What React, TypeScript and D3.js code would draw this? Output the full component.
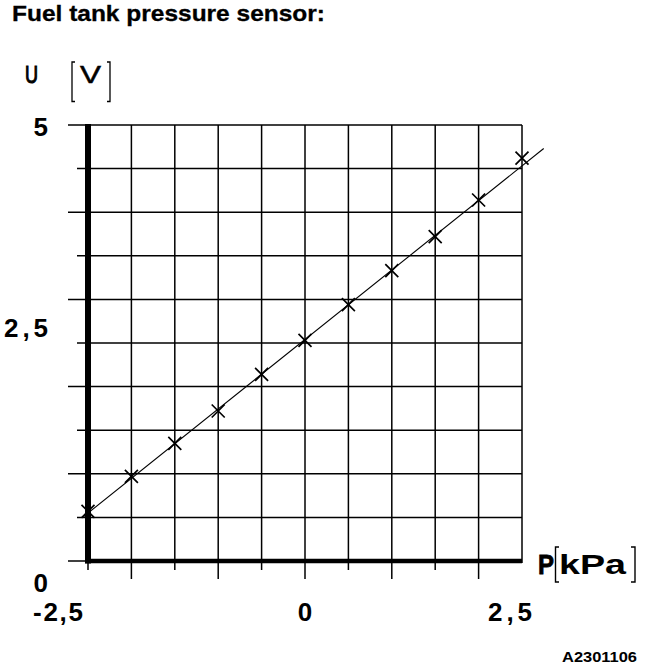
import React from "react";
import * as d3 from "d3";

const W = 656;
const H = 668;

const pressure = [-2.5, -2, -1.5, -1, -0.5, 0, 0.5, 1, 1.5, 2, 2.5];
const voltage = [0.57, 0.97, 1.35, 1.72, 2.14, 2.53, 2.94, 3.33, 3.72, 4.14, 4.62];
const lineP = [-2.55, 2.75];
const lineU = [0.51, 4.73];
const gridP = [-2.5, -2, -1.5, -1, -0.5, 0, 0.5, 1, 1.5, 2, 2.5];
const gridU = [0, 0.5, 1, 1.5, 2, 2.5, 3, 3.5, 4, 4.5, 5];
const yTicks = [
  { v: 5, label: "5", len: 14, base: 136 },
  { v: 2.5, label: "2,5", len: 44, base: 337 },
  { v: 0, label: "0", len: 15, base: 592 },
];
const xTicks = [
  { v: -2.5, label: "-2,5", dx: -5, len: 50, anchor: "end" },
  { v: 0, label: "0", dx: 0, len: 15, anchor: "middle" },
  { v: 2.5, label: "2,5", dx: 10, len: 44, anchor: "end" },
];

const FONT = "'Liberation Sans', Arial, Helvetica, sans-serif";

export default function App() {
  const x = d3.scaleLinear().domain([-2.5, 2.5]).range([88, 522]);
  const y = d3.scaleLinear().domain([0, 5]).range([561, 125]);
  const isInt = (v: number) => Math.abs(v - Math.round(v)) < 1e-9;

  const fit = d3
    .line<number>()
    .x((_, i) => x(lineP[i]))
    .y((d) => y(d));

  const m = 6.5;
  return (
    <svg
      width={W}
      height={H}
      style={{ position: "absolute", left: 0, top: 0, background: "#fff" }}
    >
      <rect width={W} height={H} fill="#fff" />
      {/* title */}
      <text
        x={12}
        y={21}
        fontFamily={FONT}
        fontWeight="bold"
        fontSize={22}
        textLength={313}
        lengthAdjust="spacingAndGlyphs"
        stroke="#000"
        strokeWidth={0.3}
      >
        Fuel tank pressure sensor:
      </text>

      {/* Y axis label U [V] */}
      <text x={25} y={83} fontFamily={FONT} fontSize={24} textLength={13} lengthAdjust="spacingAndGlyphs" stroke="#000" strokeWidth={1.1}>
        U
      </text>
      <path d="M75,62 H72 V101.5 H75" fill="none" stroke="#000" strokeWidth={1.3} />
      <text x={80} y={83} fontFamily={FONT} fontSize={24} textLength={21} lengthAdjust="spacingAndGlyphs" stroke="#000" strokeWidth={0.5}>
        V
      </text>
      <path d="M107,62 H110 V101.5 H107" fill="none" stroke="#000" strokeWidth={1.3} />

      {/* horizontal grid */}
      {gridU.map((u) => (
        <line
          key={"h" + u}
          x1={isInt(u) ? 68 : 77}
          x2={x(2.5)}
          y1={y(u)}
          y2={y(u)}
          stroke="#000"
          strokeWidth={1.5}
        />
      ))}
      {/* vertical grid */}
      {gridP.map((p) => (
        <line
          key={"v" + p}
          x1={x(p)}
          x2={x(p)}
          y1={y(5)}
          y2={p === 2.5 ? y(0) + 2 : isInt(p) ? 579 : 570}
          stroke="#000"
          strokeWidth={1.5}
        />
      ))}
      {/* thick axes */}
      <line x1={x(-2.5)} x2={x(-2.5)} y1={y(5) - 1} y2={y(0) + 2.5} stroke="#000" strokeWidth={6} />
      <line x1={x(-2.5) - 3} x2={x(2.5)} y1={y(0)} y2={y(0)} stroke="#000" strokeWidth={4.5} />

      {/* fitted line */}
      <path d={fit(lineU) || ""} fill="none" stroke="#000" strokeWidth={1.1} />

      {/* markers */}
      {pressure.map((p, i) => {
        const cx = x(p);
        const cy = y(voltage[i]);
        return (
          <path
            key={"m" + i}
            d={`M${cx - m},${cy - m}L${cx + m},${cy + m}M${cx - m},${cy + m}L${cx + m},${cy - m}`}
            stroke="#000"
            strokeWidth={1.7}
          />
        );
      })}

      {/* y tick labels */}
      {yTicks.map((t) => (
        <text
          key={"yl" + t.v}
          x={48}
          y={t.base}
          textAnchor="end"
          fontFamily={FONT}
          fontWeight="bold"
          fontSize={26}
          textLength={t.len}
          lengthAdjust="spacing"
        >
          {t.label}
        </text>
      ))}

      {/* x tick labels */}
      {xTicks.map((t) => (
        <text
          key={"xl" + t.v}
          x={x(t.v) + t.dx}
          y={621}
          textAnchor={t.anchor as any}
          fontFamily={FONT}
          fontWeight="bold"
          fontSize={26}
          textLength={t.len}
          lengthAdjust="spacing"
        >
          {t.label}
        </text>
      ))}

      {/* X axis label P [kPa] */}
      <text x={538} y={574} fontFamily={FONT} fontSize={28} fontWeight="bold" textLength={16} lengthAdjust="spacingAndGlyphs" stroke="#000" strokeWidth={0.8}>
        P
      </text>
      <path d="M559,547 H555.5 V582 H559" fill="none" stroke="#000" strokeWidth={1.4} />
      <text x={559} y={574} fontFamily={FONT} fontSize={28} fontWeight="bold" textLength={67} lengthAdjust="spacingAndGlyphs">
        kPa
      </text>
      <path d="M631,547 H635 V582 H631" fill="none" stroke="#000" strokeWidth={1.4} />

      {/* code */}
      <text
        x={562}
        y={662}
        fontFamily={FONT}
        fontSize={14}
        fontWeight="bold"
        textLength={75}
        lengthAdjust="spacingAndGlyphs"
      >
        A2301106
      </text>
    </svg>
  );
}
